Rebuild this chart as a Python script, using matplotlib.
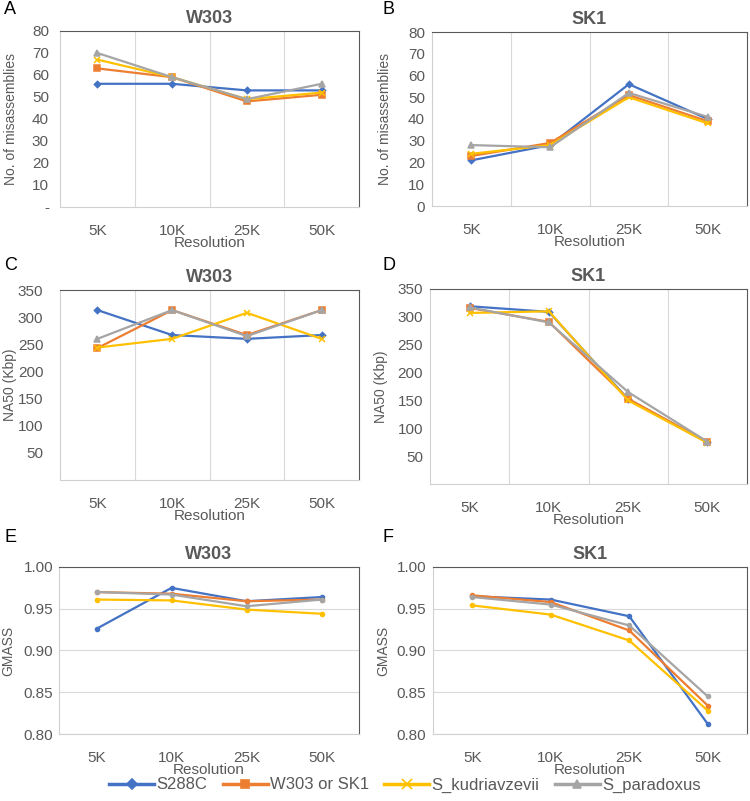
import matplotlib.pyplot as plt
import matplotlib.ticker as mticker

plt.rcParams['font.family'] = ['Liberation Sans', 'DejaVu Sans']

# === data ===
resolutions = ["5K", "10K", "25K", "50K"]
series_names = ["S288C", "W303 or SK1", "S_kudriavzevii", "S_paradoxus"]

mis_w303_s288c = [56, 56, 53, 53]
mis_w303_ref = [63, 59, 48, 51]
mis_w303_kud = [67, 59, 49, 52]
mis_w303_par = [70, 59, 49, 56]

mis_sk1_s288c = [21, 28, 56, 40]
mis_sk1_ref = [23, 29, 51, 39]
mis_sk1_kud = [24, 28, 50, 38]
mis_sk1_par = [28, 27, 52, 41]

na50_w303_s288c = [313, 267, 260, 267]
na50_w303_ref = [243, 313, 267, 313]
na50_w303_kud = [244, 260, 308, 260]
na50_w303_par = [260, 313, 265, 313]

na50_sk1_s288c = [319, 309, 152, 75]
na50_sk1_ref = [316, 291, 153, 75]
na50_sk1_kud = [307, 310, 150, 74]
na50_sk1_par = [317, 290, 165, 76]

gm_w303_s288c = [0.926, 0.975, 0.959, 0.964]
gm_w303_ref = [0.970, 0.968, 0.959, 0.961]
gm_w303_kud = [0.961, 0.960, 0.949, 0.944]
gm_w303_par = [0.970, 0.967, 0.953, 0.961]

gm_sk1_s288c = [0.965, 0.961, 0.941, 0.812]
gm_sk1_ref = [0.966, 0.958, 0.924, 0.834]
gm_sk1_kud = [0.954, 0.943, 0.912, 0.828]
gm_sk1_par = [0.964, 0.955, 0.930, 0.845]

colors = ["#4472C4", "#ED7D31", "#FFC000", "#A5A5A5"]
markers = ["D", "s", "x", "^"]
msizes = [3.2, 4.2, 5.0, 4.6]
TXT = "#595959"

W, H = 750, 801
fig = plt.figure(figsize=(W / 100, H / 100), dpi=100)


def box(l, t, r, b):
    return [l / W, 1 - b / H, (r - l) / W, (b - t) / H]


def panel(rect, data, title, letter, letter_xy, ylabel, ylabel_x, ypad, ylim, ystep, yfmt,
          dots=False, zero_label=None, hgrid=False):
    ax = fig.add_axes(box(*rect))
    x = range(len(resolutions))
    for i, vals in enumerate(data):
        if dots:
            ax.plot(x, vals, color=colors[i], lw=1.6, marker="o", ms=3.0,
                    label=series_names[i], zorder=3 + i)
        else:
            ax.plot(x, vals, color=colors[i], lw=1.6, marker=markers[i],
                    ms=msizes[i], mew=1.1, label=series_names[i], zorder=3 + i)
    ax.set_xlim(-0.5, 3.5)
    ax.set_ylim(*ylim)
    ax.set_xticks(list(x))
    ax.set_xticklabels(resolutions)
    n = int(round((ylim[1] - ylim[0]) / ystep))
    ax.set_yticks([ylim[0] + k * ystep for k in range(n + 1)])

    def fmt(v, pos):
        if abs(v - ylim[0]) < 1e-9 and zero_label is not None:
            return zero_label
        return yfmt.format(v)
    ax.yaxis.set_major_formatter(mticker.FuncFormatter(fmt))
    if hgrid:
        ax.grid(axis="y", color="#D9D9D9", lw=0.8)
    else:
        ax.set_xticks([0.5, 1.5, 2.5], minor=True)
        ax.grid(axis="x", which="minor", color="#D9D9D9", lw=0.8)
    ax.set_axisbelow(True)
    ax.tick_params(which="both", length=0, labelsize=11, colors=TXT)
    ax.tick_params(axis="y", pad=ypad)
    ax.tick_params(axis="x", pad=12)
    for side in ["top", "right"]:
        ax.spines[side].set_color("#595959")
        ax.spines[side].set_linewidth(0.8)
    for side in ["left", "bottom"]:
        ax.spines[side].set_color("#D0D0D0")
        ax.spines[side].set_linewidth(0.8)
    ax.set_title(title, fontsize=13, fontweight="bold", color=TXT, pad=6)
    ax.set_xlabel("Resolution", fontsize=11, color=TXT, labelpad=-1)
    ax.set_ylabel(ylabel, fontsize=10, color=TXT, va="center")
    ax.yaxis.set_label_coords((ylabel_x - rect[0]) / (rect[2] - rect[0]), 0.5)
    fig.text(letter_xy[0] / W, 1 - letter_xy[1] / H, letter, fontsize=13, color="black",
             ha="left", va="center")
    return ax


panel((60, 31, 359, 207), [mis_w303_s288c, mis_w303_ref, mis_w303_kud, mis_w303_par],
      "W303", "A", (4, 9), "No. of misassemblies", 11, 8, (0, 80), 10, "{:.0f}", zero_label="-")
panel((432, 32, 747, 206), [mis_sk1_s288c, mis_sk1_ref, mis_sk1_kud, mis_sk1_par],
      "SK1", "B", (382, 9), "No. of misassemblies", 385, 5, (0, 80), 10, "{:.0f}")
panel((60, 290, 359, 480), [na50_w303_s288c, na50_w303_ref, na50_w303_kud, na50_w303_par],
      "W303", "C", (4, 266), "NA50 (Kbp)", 10, 12, (0, 350), 50, "{:.0f}", zero_label="")
panel((430, 289, 747, 484), [na50_sk1_s288c, na50_sk1_ref, na50_sk1_kud, na50_sk1_par],
      "SK1", "D", (382, 266), "NA50 (Kbp)", 381, 5, (0, 350), 50, "{:.0f}", zero_label="")
panel((59, 567, 359, 734), [gm_w303_s288c, gm_w303_ref, gm_w303_kud, gm_w303_par],
      "W303", "E", (4, 538), "GMASS", 8, 4, (0.80, 1.00), 0.05, "{:.2f}", dots=True, hgrid=True)
panel((433, 567, 747, 734), [gm_sk1_s288c, gm_sk1_ref, gm_sk1_kud, gm_sk1_par],
      "SK1", "F", (382, 538), "GMASS", 383, 5, (0.80, 1.00), 0.05, "{:.2f}", dots=True, hgrid=True)

# legend
handles = [plt.Line2D([], [], color=colors[i], lw=2.5, marker=markers[i], ms=msizes[i] + 1.5,
                      mew=1.2) for i in range(4)]
leg = fig.legend(handles, series_names, loc="center", bbox_to_anchor=(405 / W, 1 - 785 / H),
                 ncol=4, frameon=False, fontsize=12, handlelength=2.7, handletextpad=0.15,
                 columnspacing=0.9, borderpad=0)
for t in leg.get_texts():
    t.set_color(TXT)

fig.savefig("out.png", dpi=100)
